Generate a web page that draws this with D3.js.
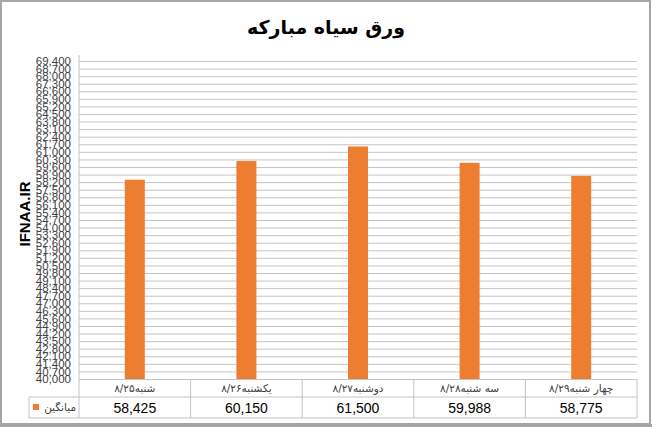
<!DOCTYPE html>
<html><head><meta charset="utf-8">
<script src="https://cdn.jsdelivr.net/npm/d3@7"></script>
<style>body{margin:0;background:#fff}svg{display:block}</style>
</head><body><svg id="c" width="652" height="427"></svg>
<script>
const title = "ورق سیاه مبارکه";
const categories = ["شنبه۸/۲۵", "یکشنبه۸/۲۶", "دوشنبه۸/۲۷", "سه شنبه۸/۲۸", "چهار شنبه۸/۲۹"];
const values = [58425, 60150, 61500, 59988, 58775];
const seriesName = "میانگین";
const yMin = 40000, yMax = 69400, yStep = 700;
const yTicks = d3.range(yMin, yMax + 1, yStep);
const yLabel = "IFNAA.IR";

const svg = d3.select("#c");
const L = 79, R = 637, T = 61, B = 379;
const rowH1 = 397, rowH2 = 418, legL = 29;
const grid = "#c4c4c4";

svg.append("rect").attr("x",0).attr("y",0).attr("width",652).attr("height",427).attr("fill","#fff");

const x = d3.scaleBand().domain(categories).range([L, R]).paddingInner(0).paddingOuter(0);
const y = d3.scaleLinear().domain([yMin, yMax]).range([B, T]);

// gridlines
const yAxis = d3.axisLeft(y).tickValues(yTicks).tickSize(-(R - L)).tickFormat(d3.format(","));
const gy = svg.append("g").attr("transform", `translate(${L},0)`).call(yAxis);
gy.select(".domain").remove();
gy.selectAll(".tick line").attr("stroke", grid).attr("stroke-width", 1);
gy.selectAll(".tick text").attr("x", -8).attr("fill", "#404040")
  .style("font-family", "Arial, 'Liberation Sans', sans-serif").style("font-size", "11.5px");

// axis line
svg.append("line").attr("x1", L).attr("x2", L).attr("y1", T - 6).attr("y2", rowH2).attr("stroke", grid);

// bars
svg.append("g").selectAll("rect").data(values).join("rect")
  .attr("x", (d, i) => x(categories[i]) + x.bandwidth() / 2 - 10)
  .attr("width", 20)
  .attr("y", d => y(d))
  .attr("height", d => B - y(d))
  .attr("fill", "#ED7D31");

// table
const tb = svg.append("g");
tb.append("line").attr("x1", L).attr("x2", R).attr("y1", B + 0.5).attr("y2", B + 0.5).attr("stroke", grid);
tb.append("line").attr("x1", legL).attr("x2", R).attr("y1", rowH1).attr("y2", rowH1).attr("stroke", grid);
tb.append("line").attr("x1", legL).attr("x2", R).attr("y1", rowH2).attr("y2", rowH2).attr("stroke", grid);
tb.append("line").attr("x1", legL).attr("x2", legL).attr("y1", rowH1).attr("y2", rowH2).attr("stroke", grid);
categories.forEach((c, i) => {
  const x1 = x(c) + x.bandwidth();
  tb.append("line").attr("x1", x1).attr("x2", x1).attr("y1", B).attr("y2", rowH2).attr("stroke", grid);
});
tb.selectAll("text.cat").data(categories).join("text").attr("class", "cat")
  .attr("x", d => x(d) + x.bandwidth() / 2).attr("y", 392)
  .attr("text-anchor", "middle").attr("fill", "#404040")
  .style("font-family", "'DejaVu Sans', sans-serif").style("font-size", "10.5px")
  .text(d => d);
tb.selectAll("text.val").data(values).join("text").attr("class", "val")
  .attr("x", (d, i) => x(categories[i]) + x.bandwidth() / 2).attr("y", 413)
  .attr("text-anchor", "middle").attr("fill", "#000")
  .style("font-family", "Arial, 'Liberation Sans', sans-serif").style("font-size", "14px")
  .text(d => d3.format(",")(d));
// legend key
tb.append("rect").attr("x", 33).attr("y", 404).attr("width", 6).attr("height", 6).attr("fill", "#ED7D31");
tb.append("text").attr("x", 76).attr("y", 411).attr("text-anchor", "end").attr("fill", "#404040")
  .style("font-family", "'DejaVu Sans', sans-serif").style("font-size", "10.5px").text(seriesName);

// y label
svg.append("text").attr("transform", "translate(30,214) rotate(-90)")
  .attr("text-anchor", "middle").attr("fill", "#000")
  .style("font-family", "Arial, 'Liberation Sans', sans-serif").style("font-size", "15px").style("font-weight", "bold")
  .text(yLabel);

// title
svg.append("text").attr("x", 326).attr("y", 34).attr("text-anchor", "middle").attr("fill", "#000")
  .style("font-family", "'DejaVu Sans', sans-serif").style("font-size", "19px").style("font-weight", "bold")
  .text(title);

// border
svg.append("rect").attr("x", 1).attr("y", 1).attr("width", 649).attr("height", 423)
  .attr("fill", "none").attr("stroke", "#a6a6a6").attr("stroke-width", 2);
svg.append("rect").attr("x", 0).attr("y", 424).attr("width", 652).attr("height", 3).attr("fill", "#a6a6a6");
</script></body></html>
